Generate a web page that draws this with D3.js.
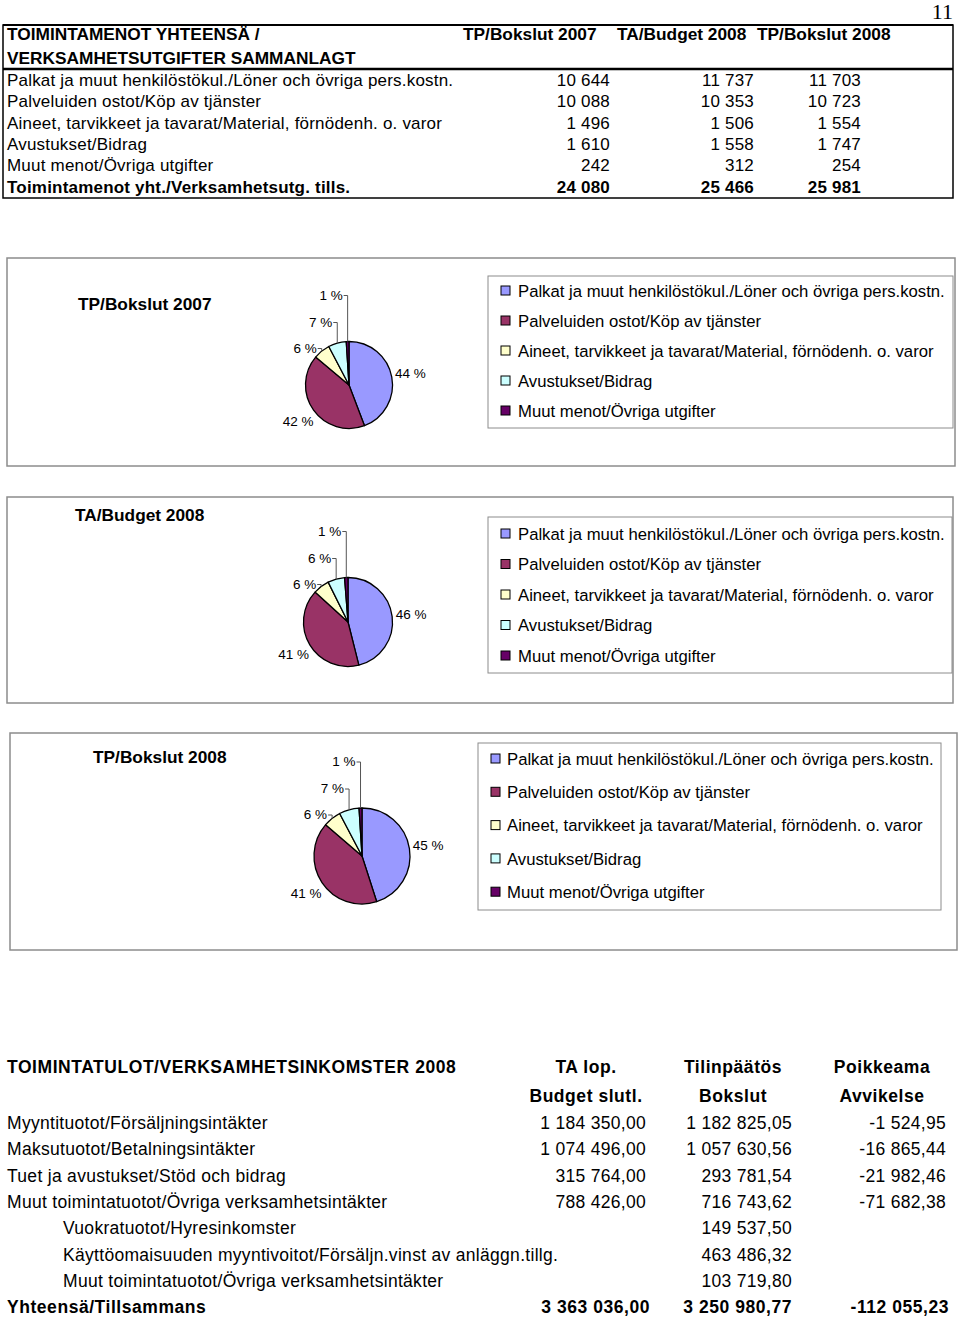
<!DOCTYPE html>
<html>
<head>
<meta charset="utf-8">
<script src="https://cdn.jsdelivr.net/npm/d3@7/dist/d3.min.js"></script>
<style>
    body { margin: 0; background: #fff; }
    svg { display: block; font-family: "Liberation Sans", Arial, sans-serif; }
    .body-text { font-size: 17px; letter-spacing: 0.2px; }
    .head-text { font-size: 17.3px; font-weight: bold; }
    .pie-label { font-size: 13.5px; }
    .legend-text { font-size: 16.7px; }
    .chart-box { fill: none; stroke: #8c8c8c; stroke-width: 1.5px; }
    .legend-box { fill: none; stroke: #8c8c8c; stroke-width: 1px; }
    .inc-text { font-size: 17.5px; letter-spacing: 0.3px; }
    .inc-bold { font-size: 17.5px; letter-spacing: 0.55px; font-weight: bold; }
</style>
</head>
<body>
<div id="page"></div>
<script>
// cost table / pie data (1000 €)
var costCategories = [
    "Palkat ja muut henkilöstökul./Löner och övriga pers.kostn.",
    "Palveluiden ostot/Köp av tjänster",
    "Aineet, tarvikkeet ja tavarat/Material, förnödenh. o. varor",
    "Avustukset/Bidrag",
    "Muut menot/Övriga utgifter"
];
var costTotalLabel = "Toimintamenot yht./Verksamhetsutg. tills.";
var costHeader = ["TOIMINTAMENOT YHTEENSÄ /", "VERKSAMHETSUTGIFTER SAMMANLAGT"];
var costColumns = ["TP/Bokslut 2007", "TA/Budget 2008", "TP/Bokslut 2008"];
var bokslut2007 = [10644, 10088, 1496, 1610, 242];
var budget2008 = [11737, 10353, 1506, 1558, 312];
var bokslut2008 = [11703, 10723, 1554, 1747, 254];
var costTotals = [24080, 25466, 25981];
var sliceColors = ["#9999ff", "#993366", "#ffffcc", "#ccffff", "#660066"];

// income table data (€)
var incomeTitle = "TOIMINTATULOT/VERKSAMHETSINKOMSTER 2008";
var incomeColumns = [["TA lop.", "Budget slutl."], ["Tilinpäätös", "Bokslut"], ["Poikkeama", "Avvikelse"]];
var incomeRows = [
    "Myyntituotot/Försäljningsintäkter",
    "Maksutuotot/Betalningsintäkter",
    "Tuet ja avustukset/Stöd och bidrag",
    "Muut toimintatuotot/Övriga verksamhetsintäkter",
    "Vuokratuotot/Hyresinkomster",
    "Käyttöomaisuuden myyntivoitot/Försäljn.vinst av anläggn.tillg.",
    "Muut toimintatuotot/Övriga verksamhetsintäkter"
];
var incomeLevel = [0, 0, 0, 0, 1, 1, 1];
var incomeBudget = [1184350.00, 1074496.00, 315764.00, 788426.00, null, null, null];
var incomeBokslut = [1182825.05, 1057630.56, 293781.54, 716743.62, 149537.50, 463486.32, 103719.80];
var incomeDiff = [-1524.95, -16865.44, -21982.46, -71682.38, null, null, null];
var incomeTotalLabel = "Yhteensä/Tillsammans";
var incomeTotals = [3363036.00, 3250980.77, -112055.23];

var pageNumber = "11";

var fi = d3.formatLocale({ decimal: ",", thousands: " ", grouping: [3], currency: ["", ""], minus: "-" });
var fmtInt = fi.format(",.0f");
var fmtDec = fi.format(",.2f");

var svg = d3.select("#page").append("svg")
    .attr("width", 960)
    .attr("height", 1320);

svg.append("text")
    .attr("x", 953).attr("y", 19)
    .attr("text-anchor", "end")
    .style("font-family", "'Liberation Serif', serif")
    .style("font-size", "22px")
    .text(pageNumber);

// ---- top table ----
var tTop = 25, tHead = 69, tBottom = 198, tLeft = 3, tRight = 953;
var rowY = d3.scaleLinear().domain([0, 1]).range([86, 107.3]);
var colStart = [463, 617, 757];
var colEnd = [610, 754, 861];

var tbl = svg.append("g");
tbl.append("rect")
    .attr("x", tLeft).attr("y", tTop)
    .attr("width", tRight - tLeft).attr("height", tBottom - tTop)
    .attr("fill", "none").attr("stroke", "#000").attr("stroke-width", 1.5);
tbl.append("line")
    .attr("x1", tLeft).attr("x2", tRight)
    .attr("y1", tTop).attr("y2", tTop)
    .attr("stroke", "#000").attr("stroke-width", 2);
tbl.append("line")
    .attr("x1", tLeft).attr("x2", tRight)
    .attr("y1", tHead).attr("y2", tHead)
    .attr("stroke", "#000").attr("stroke-width", 2.5);

costHeader.forEach(function (t, i) {
    tbl.append("text").attr("class", "head-text")
        .attr("x", 7).attr("y", 40 + i * 24).text(t);
});
costColumns.forEach(function (t, i) {
    tbl.append("text").attr("class", "head-text")
        .attr("x", colStart[i]).attr("y", 40).text(t);
});

var costSeries = [bokslut2007, budget2008, bokslut2008];
costCategories.forEach(function (c, i) {
    tbl.append("text").attr("class", "body-text")
        .attr("x", 7).attr("y", rowY(i)).text(c);
    costSeries.forEach(function (s, j) {
        tbl.append("text").attr("class", "body-text")
            .attr("x", colEnd[j]).attr("y", rowY(i))
            .attr("text-anchor", "end").text(fmtInt(s[i]));
    });
});
tbl.append("text").attr("class", "body-text")
    .style("font-weight", "bold")
    .attr("x", 7).attr("y", rowY(5)).text(costTotalLabel);
costTotals.forEach(function (v, j) {
    tbl.append("text").attr("class", "body-text")
        .style("font-weight", "bold")
        .attr("x", colEnd[j]).attr("y", rowY(5))
        .attr("text-anchor", "end").text(fmtInt(v));
});

// ---- pie charts ----
var charts = [
    { title: costColumns[0], values: bokslut2007, box: [7, 258, 955, 466], titlePos: [78, 310],
      pie: [349, 385, 43.5], legend: [488, 276, 953, 428], item0: 291, step: 30, sq: 501, tx: 518 },
    { title: costColumns[1], values: budget2008, box: [7, 497, 953, 703], titlePos: [75, 521],
      pie: [348, 622, 44.5], legend: [488, 517, 952, 673], item0: 534, step: 30.5, sq: 501, tx: 518 },
    { title: costColumns[2], values: bokslut2008, box: [10, 733, 957, 950], titlePos: [93, 763],
      pie: [362, 856, 48], legend: [478, 743, 941, 910], item0: 759, step: 33.3, sq: 491, tx: 507 }
];

var pie = d3.pie().sort(null).value(function (d) { return d; });

charts.forEach(function (ch) {
    var g = svg.append("g");
    g.append("rect").attr("class", "chart-box")
        .attr("x", ch.box[0]).attr("y", ch.box[1])
        .attr("width", ch.box[2] - ch.box[0]).attr("height", ch.box[3] - ch.box[1]);
    g.append("text").attr("class", "head-text")
        .attr("x", ch.titlePos[0]).attr("y", ch.titlePos[1])
        .text(ch.title);

    var cx = ch.pie[0], cy = ch.pie[1], r = ch.pie[2];
    var total = d3.sum(ch.values);
    var arcs = pie(ch.values);
    var arc = d3.arc().innerRadius(0).outerRadius(r);

    var pg = g.append("g").attr("transform", "translate(" + cx + "," + cy + ")");
    pg.selectAll("path.slice")
        .data(arcs)
        .enter().append("path")
        .attr("class", "slice")
        .attr("d", arc)
        .attr("fill", function (d, i) { return sliceColors[i]; })
        .attr("stroke", "#000")
        .attr("stroke-width", 1.3)
        .attr("stroke-linejoin", "round");

    // labels: the two big slices beside the pie, the small ones with leader lines
    var smallOffset = [null, null, 11, -15, -42];
    arcs.forEach(function (d, i) {
        var a = (d.startAngle + d.endAngle) / 2;
        var pct = Math.round(d.value / total * 100) + " %";
        if (i < 2) {
            var R = r + 19;
            pg.append("text").attr("class", "pie-label")
                .attr("x", R * Math.sin(a)).attr("y", -R * Math.cos(a))
                .attr("dy", "0.35em")
                .attr("text-anchor", "middle")
                .text(pct);
        } else {
            var ex = r * Math.sin(a), ey = -r * Math.cos(a);
            var by = -r + smallOffset[i];
            var endX = ex - 5;
            pg.append("text").attr("class", "pie-label")
                .attr("x", endX).attr("y", by)
                .attr("text-anchor", "end")
                .text(pct);
            pg.append("path")
                .attr("d", "M" + (endX + 1) + "," + (by - 4) + "H" + ex + "V" + ey)
                .attr("fill", "none")
                .attr("stroke", "#555")
                .attr("stroke-width", 1);
        }
    });

    // legend
    var lg = g.append("g");
    lg.append("rect").attr("class", "legend-box")
        .attr("x", ch.legend[0]).attr("y", ch.legend[1])
        .attr("width", ch.legend[2] - ch.legend[0]).attr("height", ch.legend[3] - ch.legend[1]);
    costCategories.forEach(function (c, i) {
        var y = ch.item0 + i * ch.step;
        lg.append("rect")
            .attr("x", ch.sq).attr("y", y - 5)
            .attr("width", 9).attr("height", 9)
            .attr("fill", sliceColors[i])
            .attr("stroke", "#000").attr("stroke-width", 1);
        lg.append("text").attr("class", "legend-text")
            .attr("x", ch.tx).attr("y", y).attr("dy", "0.35em")
            .text(c);
    });
});

// ---- income table ----
var inc = svg.append("g");
var incY = d3.scaleLinear().domain([0, 1]).range([1129, 1155.3]);
var incCenter = [586, 733, 882];
var incEnd = [646, 792, 946];

inc.append("text").attr("class", "inc-bold")
    .attr("x", 7).attr("y", 1073).text(incomeTitle);
incomeColumns.forEach(function (c, j) {
    c.forEach(function (t, k) {
        inc.append("text").attr("class", "inc-bold")
            .attr("x", incCenter[j]).attr("y", 1073 + k * 29)
            .attr("text-anchor", "middle").text(t);
    });
});

var incSeries = [incomeBudget, incomeBokslut, incomeDiff];
incomeRows.forEach(function (t, i) {
    inc.append("text").attr("class", "inc-text")
        .attr("x", incomeLevel[i] ? 63 : 7).attr("y", incY(i)).text(t);
    incSeries.forEach(function (s, j) {
        if (s[i] === null) return;
        inc.append("text").attr("class", "inc-text")
            .attr("x", incEnd[j]).attr("y", incY(i))
            .attr("text-anchor", "end").text(fmtDec(s[i]));
    });
});
inc.append("text").attr("class", "inc-bold")
    .attr("x", 7).attr("y", incY(7)).text(incomeTotalLabel);
incomeTotals.forEach(function (v, j) {
    inc.append("text").attr("class", "inc-bold")
        .attr("x", incEnd[j] + (j === 0 ? 4 : 0) + (j === 2 ? 3 : 0)).attr("y", incY(7))
        .attr("text-anchor", "end").text(fmtDec(v));
});
</script>
</body>
</html>
